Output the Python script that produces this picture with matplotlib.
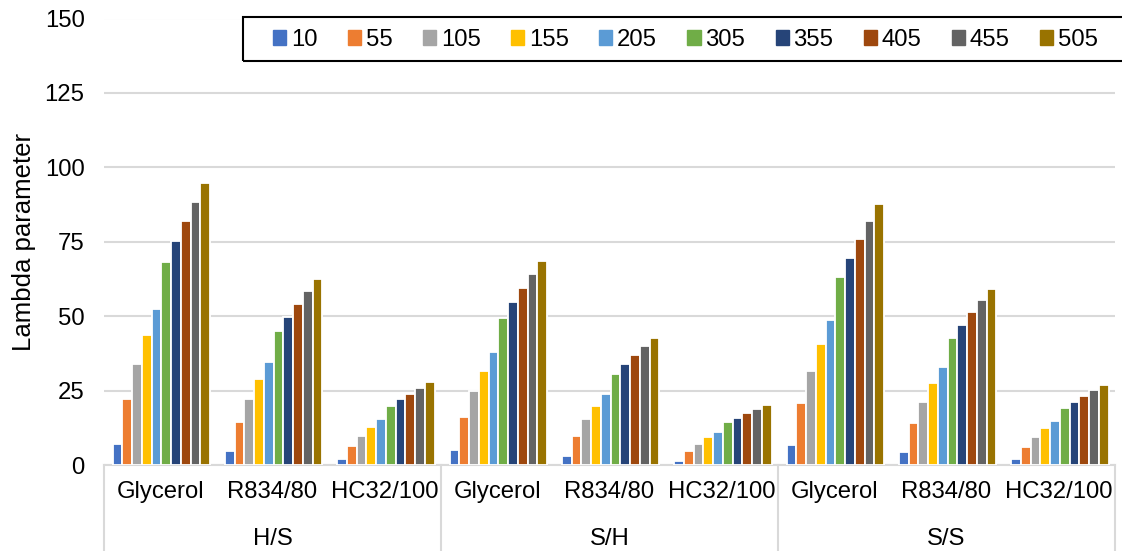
import matplotlib
matplotlib.use('Agg')
import matplotlib.pyplot as plt
import matplotlib.patches as mpatches
import numpy as np

plt.rcParams['font.family'] = ['Liberation Sans', 'DejaVu Sans']

# --------------------------
# data
# --------------------------
series_names = ['10', '55', '105', '155', '205', '305', '355', '405', '455', '505']
fluids = ['Glycerol', 'R834/80', 'HC32/100']
groups = ['H/S', 'S/H', 'S/S']

# one row per (group, fluid), one column per series
hs_glycerol = [7.0, 22.2, 33.9, 43.8, 52.5, 68.1, 75.3, 82.0, 88.5, 94.6]
hs_r834 = [4.6, 14.6, 22.3, 28.9, 34.7, 44.9, 49.6, 54.0, 58.3, 62.4]
hs_hc32 = [1.9, 6.4, 9.9, 12.7, 15.3, 19.9, 22.1, 24.0, 26.0, 27.8]
sh_glycerol = [5.2, 16.1, 24.7, 31.7, 38.1, 49.4, 54.7, 59.4, 64.1, 68.7]
sh_r834 = [3.1, 9.9, 15.4, 19.7, 23.8, 30.7, 33.9, 36.9, 39.9, 42.6]
sh_hc32 = [1.3, 4.7, 7.2, 9.3, 11.1, 14.5, 15.9, 17.4, 18.7, 20.2]
ss_glycerol = [6.7, 20.7, 31.6, 40.5, 48.7, 63.0, 69.5, 75.8, 81.9, 87.6]
ss_r834 = [4.5, 14.0, 21.3, 27.4, 32.9, 42.8, 47.0, 51.3, 55.4, 59.2]
ss_hc32 = [2.0, 6.2, 9.5, 12.3, 14.8, 19.1, 21.3, 23.2, 25.1, 26.8]

values = np.array([hs_glycerol, hs_r834, hs_hc32,
                   sh_glycerol, sh_r834, sh_hc32,
                   ss_glycerol, ss_r834, ss_hc32])

colors = ['#4472C4', '#ED7D31', '#A5A5A5', '#FFC000', '#5B9BD5',
          '#70AD47', '#264478', '#9E480E', '#636363', '#997300']

fs = 17.2

W, H = 1122, 551
fig = plt.figure(figsize=(W / 100, H / 100), dpi=100)
ax = fig.add_axes([104 / W, 1 - 465 / H, (1115 - 104) / W, (465 - 18.5) / H])

n_series = len(series_names)
pitch = 0.0867
x = np.arange(values.shape[0])
for i, name in enumerate(series_names):
    ax.bar(x + (i - (n_series - 1) / 2) * pitch + 0.01, values[:, i], width=pitch,
           color=colors[i], edgecolor='white', linewidth=1.3, zorder=3)

ax.set_xlim(-0.5, len(x) - 0.5)
ax.set_ylim(0, 150)
ax.set_yticks(np.arange(0, 151, 25))
ax.yaxis.grid(True, color='#D9D9D9', linewidth=1.5, zorder=0)
ax.set_axisbelow(True)
for s in ['top', 'right', 'left']:
    ax.spines[s].set_visible(False)
ax.spines['bottom'].set_color('#D9D9D9')
ax.spines['bottom'].set_linewidth(1.5)
ax.tick_params(axis='y', length=0, pad=14, labelsize=fs)
ax.set_xticks([])
ax.set_ylabel('Lambda parameter', fontsize=18.5, labelpad=6)

# two-level category axis
trans = ax.get_xaxis_transform()
for k in range(len(x)):
    ax.text(k, -0.06, fluids[k % 3], transform=trans, ha='center', va='center', fontsize=fs)
for g, name in enumerate(groups):
    ax.text(g * 3 + 1, -0.166, name, transform=trans, ha='center', va='center', fontsize=fs)
for sep in [-0.5, 2.5, 5.5, 8.5]:
    ax.plot([sep, sep], [0, -0.2], transform=trans, color='#D9D9D9', linewidth=1.5, clip_on=False)

# legend with a frame running off the right edge
frame = mpatches.Rectangle((243 / W, 1 - 61 / H), (1160 - 243) / W, 44 / H,
                           transform=fig.transFigure, fill=False, edgecolor='black',
                           linewidth=1.5, zorder=5)
fig.add_artist(frame)
handles = [mpatches.Patch(color=c, label=n) for c, n in zip(colors, series_names)]
fig.legend(handles=handles, ncol=n_series, loc='center left', frameon=False,
           bbox_to_anchor=(273 / W, 1 - 40 / H), fontsize=fs, borderpad=0,
           borderaxespad=0, handlelength=0.55, handleheight=0.55,
           handletextpad=0.2, columnspacing=1.27)

plt.savefig('out.png', dpi=100)
